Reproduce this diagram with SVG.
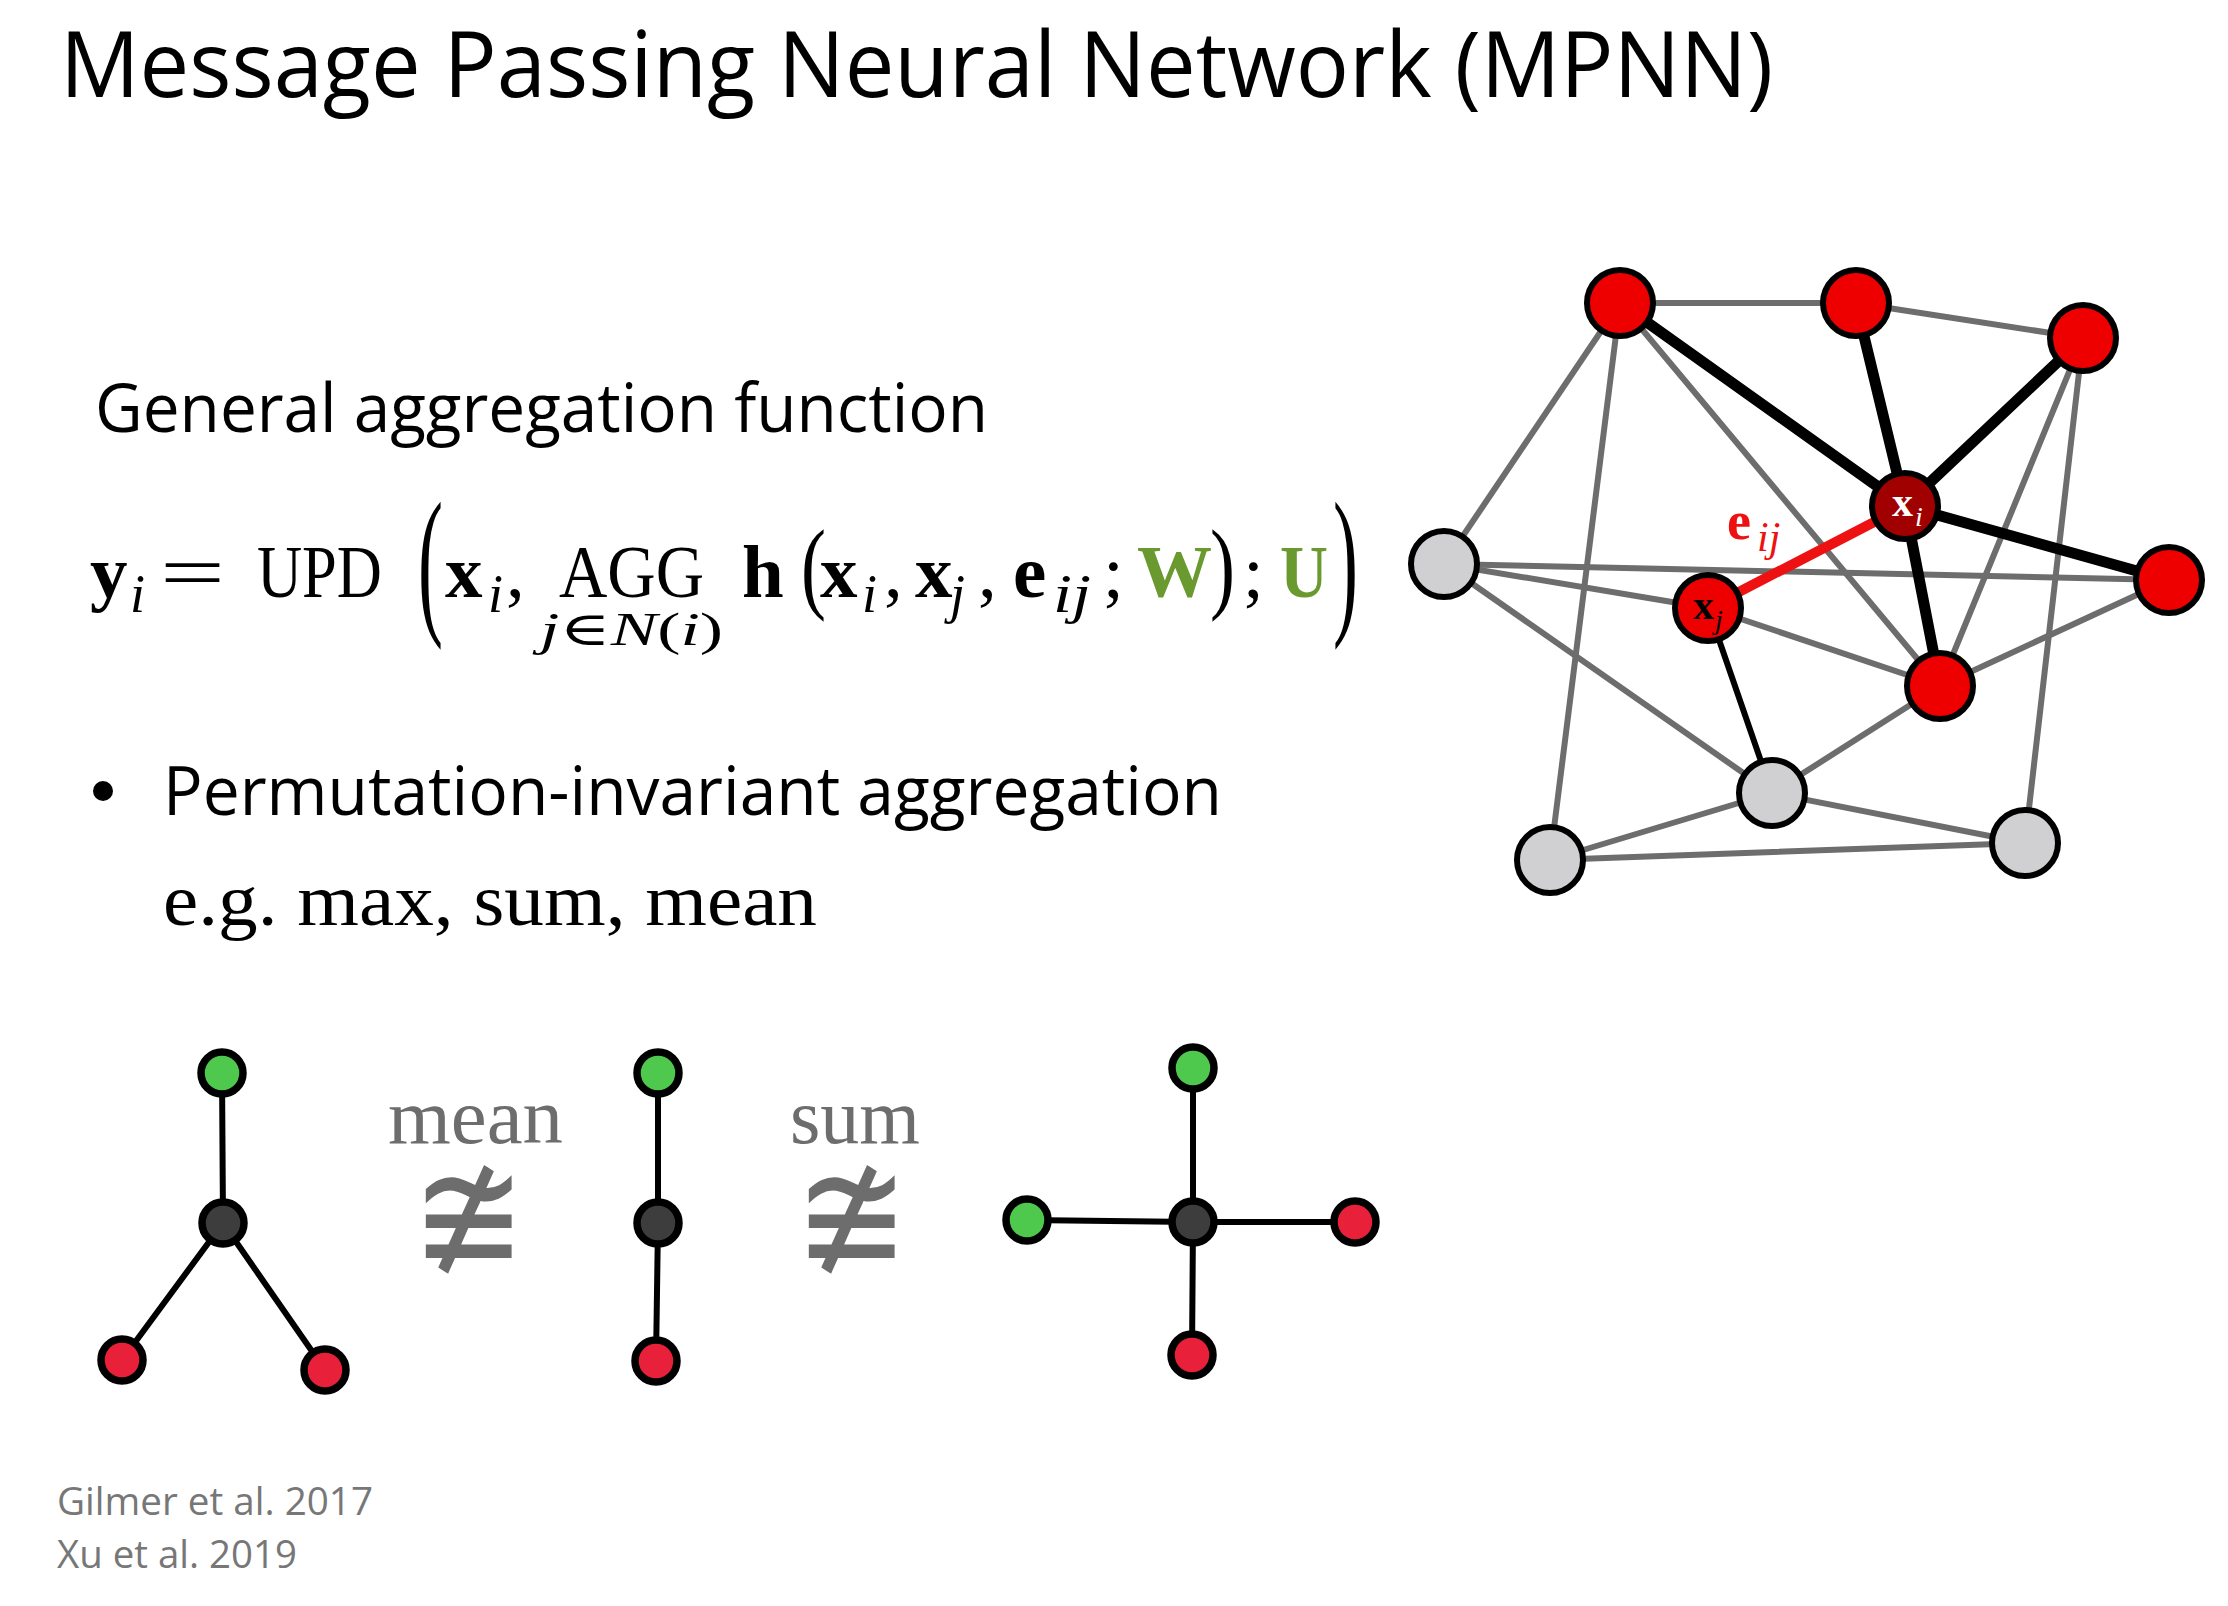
<svg xmlns="http://www.w3.org/2000/svg" width="2228" height="1606" viewBox="0 0 2228 1606">
  <style>
    .sans { font-family: "Open Sans", "Noto Sans", "Liberation Sans", sans-serif; fill: #000; }
    .math { font-family: "Liberation Serif", "DejaVu Serif", serif; fill: #000; }
    .b { font-weight: bold; }
    .it { font-style: italic; }
    .green { fill: #6a9a2f; }
    .gray-serif { font-family: "Liberation Serif", "DejaVu Serif", serif; fill: #6d6d6d; }
    .ncong { font-family: "DejaVu Serif", "DejaVu Sans", serif; fill: #6d6d6d; }
    .ref { font-family: "Open Sans", "Noto Sans", "Liberation Sans", sans-serif; fill: #777; }
    .e-gray { stroke: #6d6d6d; stroke-width: 6; stroke-linecap: round; fill: none; }
    .e-black { stroke: #000; stroke-width: 11; stroke-linecap: round; fill: none; }
    .e-thin { stroke: #000; stroke-width: 6; stroke-linecap: round; fill: none; }
    .e-red { stroke: #ee1111; stroke-width: 10; stroke-linecap: round; fill: none; }
    .n-red { fill: #ee0000; stroke: #000; stroke-width: 6; }
    .n-dark { fill: #a00000; stroke: #000; stroke-width: 6; }
    .n-gray { fill: #d0d0d3; stroke: #000; stroke-width: 6; }
    .s-edge { stroke: #000; stroke-width: 6; stroke-linecap: round; }
    .s-green { fill: #4ec94e; stroke: #000; stroke-width: 7.5; }
    .s-red { fill: #e8203a; stroke: #000; stroke-width: 7.5; }
    .s-dark { fill: #3d3d3d; stroke: #000; stroke-width: 7.5; }
  </style>

  <rect width="2228" height="1606" fill="#fff"/>

  <!-- Title -->
  <text class="sans" x="60" y="97" font-size="91" textLength="1713" lengthAdjust="spacingAndGlyphs">Message Passing Neural Network (MPNN)</text>

  <!-- Heading -->
  <text class="sans" x="95" y="432" font-size="67" textLength="893" lengthAdjust="spacingAndGlyphs">General aggregation function</text>

  <!-- Formula -->
  <g id="formula" class="math" font-size="75">
    <text class="b" x="90" y="597">y</text>
    <text class="it" x="130" y="612" font-size="54">i</text>
    <text x="160" y="597" textLength="65" lengthAdjust="spacingAndGlyphs">=</text>
    <text x="257" y="597" textLength="125" lengthAdjust="spacingAndGlyphs">UPD</text>
    <text transform="translate(418,614.7) scale(1,2.17)">(</text>
    <text class="b" x="445" y="597">x</text>
    <text class="it" x="488" y="612" font-size="54">i</text>
    <text x="506" y="597">,</text>
    <text x="559" y="597" textLength="145" lengthAdjust="spacingAndGlyphs">AGG</text>
    <text x="540" y="645" font-size="47" textLength="183" lengthAdjust="spacingAndGlyphs"><tspan class="it">j</tspan>∈<tspan class="it">N</tspan>(<tspan class="it">i</tspan>)</text>
    <text class="b" x="742" y="597">h</text>
    <text transform="translate(801,600) scale(1,1.35)">(</text>
    <text class="b" x="820" y="597">x</text>
    <text class="it" x="862" y="612" font-size="54">i</text>
    <text x="884" y="597">,</text>
    <text class="b" x="915" y="597">x</text>
    <text class="it" x="950" y="612" font-size="54">j</text>
    <text x="978" y="597">,</text>
    <text class="b" x="1013" y="597">e</text>
    <text class="it" x="1053" y="612" font-size="54" textLength="38" lengthAdjust="spacingAndGlyphs">ij</text>
    <text x="1103" y="597">;</text>
    <text class="b green" x="1137" y="597">W</text>
    <text transform="translate(1210,600) scale(1,1.35)">)</text>
    <text x="1243" y="597">;</text>
    <text class="b green" x="1280" y="597" textLength="48" lengthAdjust="spacingAndGlyphs">U</text>
    <text transform="translate(1333,614.7) scale(1,2.17)">)</text>
  </g>

  <!-- Bullet -->
  <circle cx="103" cy="791" r="10" fill="#000"/>
  <text class="sans" x="163" y="815" font-size="67" textLength="1059" lengthAdjust="spacingAndGlyphs">Permutation-invariant aggregation</text>
  <text class="math" x="163" y="925" font-size="74" textLength="654" lengthAdjust="spacingAndGlyphs">e.g. max, sum, mean</text>

  <!-- Example graph: connectors -->
  <g id="connectors">
    <line class="e-gray" x1="1620" y1="303" x2="1856" y2="303"/>
    <line class="e-gray" x1="1856" y1="303" x2="2083" y2="338"/>
    <line class="e-gray" x1="1620" y1="303" x2="1444" y2="564"/>
    <line class="e-gray" x1="1620" y1="303" x2="1550" y2="860"/>
    <line class="e-gray" x1="1620" y1="303" x2="1940" y2="686"/>
    <line class="e-gray" x1="2083" y1="338" x2="1940" y2="686"/>
    <line class="e-gray" x1="2083" y1="338" x2="2025" y2="843"/>
    <line class="e-gray" x1="1444" y1="564" x2="2169" y2="580"/>
    <line class="e-gray" x1="1444" y1="564" x2="1708" y2="608"/>
    <line class="e-gray" x1="1444" y1="564" x2="1772" y2="793"/>
    <line class="e-gray" x1="1708" y1="608" x2="1940" y2="686"/>
    <line class="e-gray" x1="1940" y1="686" x2="2169" y2="580"/>
    <line class="e-gray" x1="1940" y1="686" x2="1772" y2="793"/>
    <line class="e-gray" x1="1772" y1="793" x2="1550" y2="860"/>
    <line class="e-gray" x1="1772" y1="793" x2="2025" y2="843"/>
    <line class="e-gray" x1="1550" y1="860" x2="2025" y2="843"/>
    <line class="e-black" x1="1620" y1="303" x2="1905" y2="506"/>
    <line class="e-black" x1="1856" y1="303" x2="1905" y2="506"/>
    <line class="e-black" x1="2083" y1="338" x2="1905" y2="506"/>
    <line class="e-black" x1="1905" y1="506" x2="2169" y2="580"/>
    <line class="e-black" x1="1905" y1="506" x2="1940" y2="686"/>
    <line class="e-thin" x1="1708" y1="608" x2="1772" y2="793"/>
    <line class="e-red" x1="1905" y1="506" x2="1708" y2="608"/>
  </g>

  <!-- Example graph: nodes -->
  <g id="n-tl"><circle class="n-red" cx="1620" cy="303" r="33"/></g>
  <g id="n-tm"><circle class="n-red" cx="1856" cy="303" r="33"/></g>
  <g id="n-tr"><circle class="n-red" cx="2083" cy="338" r="33"/></g>
  <g id="n-r"><circle class="n-red" cx="2169" cy="580" r="33"/></g>
  <g id="n-low"><circle class="n-red" cx="1940" cy="686" r="33"/></g>
  <g id="n-left"><circle class="n-gray" cx="1444" cy="564" r="33"/></g>
  <g id="n-mid"><circle class="n-gray" cx="1772" cy="793" r="33"/></g>
  <g id="n-bl"><circle class="n-gray" cx="1550" cy="860" r="33"/></g>
  <g id="n-br"><circle class="n-gray" cx="2025" cy="843" r="33"/></g>
  <g id="n-xi">
    <circle class="n-dark" cx="1905" cy="506" r="33"/>
    <text class="math b" x="1892" y="516" font-size="42" style="fill:#fff">x</text>
    <text class="math it" x="1915" y="526" font-size="28" style="fill:#fff">i</text>
  </g>
  <g id="n-xj">
    <circle class="n-red" cx="1708" cy="608" r="33"/>
    <text class="math b" x="1693" y="619" font-size="42">x</text>
    <text class="math it" x="1715" y="629" font-size="28">j</text>
  </g>
  <g id="label-eij">
    <text class="math b" x="1727" y="539" font-size="54" style="fill:#ee1111">e</text>
    <text class="math it" x="1757" y="551" font-size="42" style="fill:#ee1111">ij</text>
  </g>

  <!-- Small graphs -->
  <g id="g1">
    <line class="s-edge" x1="222" y1="1073" x2="223" y2="1223"/>
    <line class="s-edge" x1="223" y1="1223" x2="122" y2="1360"/>
    <line class="s-edge" x1="223" y1="1223" x2="325" y2="1370"/>
    <circle class="s-green" cx="222" cy="1073" r="21"/>
    <circle class="s-dark" cx="223" cy="1223" r="21"/>
    <circle class="s-red" cx="122" cy="1360" r="21"/>
    <circle class="s-red" cx="325" cy="1370" r="21"/>
  </g>
  <g id="g2">
    <line class="s-edge" x1="658" y1="1073" x2="658" y2="1223"/>
    <line class="s-edge" x1="658" y1="1223" x2="656" y2="1361"/>
    <circle class="s-green" cx="658" cy="1073" r="21"/>
    <circle class="s-dark" cx="658" cy="1223" r="21"/>
    <circle class="s-red" cx="656" cy="1361" r="21"/>
  </g>
  <g id="g3">
    <line class="s-edge" x1="1193" y1="1068" x2="1193" y2="1222"/>
    <line class="s-edge" x1="1193" y1="1222" x2="1192" y2="1355"/>
    <line class="s-edge" x1="1027" y1="1220" x2="1193" y2="1222"/>
    <line class="s-edge" x1="1193" y1="1222" x2="1355" y2="1222"/>
    <circle class="s-green" cx="1193" cy="1068" r="21"/>
    <circle class="s-dark" cx="1193" cy="1222" r="21"/>
    <circle class="s-green" cx="1027" cy="1220" r="21"/>
    <circle class="s-red" cx="1355" cy="1222" r="21"/>
    <circle class="s-red" cx="1192" cy="1355" r="21"/>
  </g>

  <text class="gray-serif" x="388" y="1143" font-size="78" textLength="175" lengthAdjust="spacingAndGlyphs">mean</text>
  <text class="ncong" transform="translate(469,1273) scale(1,1.2)" font-size="137" text-anchor="middle">≇</text>
  <text class="gray-serif" x="790" y="1143" font-size="78" textLength="130" lengthAdjust="spacingAndGlyphs">sum</text>
  <text class="ncong" transform="translate(852,1273) scale(1,1.2)" font-size="137" text-anchor="middle">≇</text>

  <!-- References -->
  <text class="ref" x="57" y="1515" font-size="39" textLength="316" lengthAdjust="spacingAndGlyphs">Gilmer et al. 2017</text>
  <text class="ref" x="57" y="1568" font-size="39" textLength="240" lengthAdjust="spacingAndGlyphs">Xu et al. 2019</text>
</svg>
